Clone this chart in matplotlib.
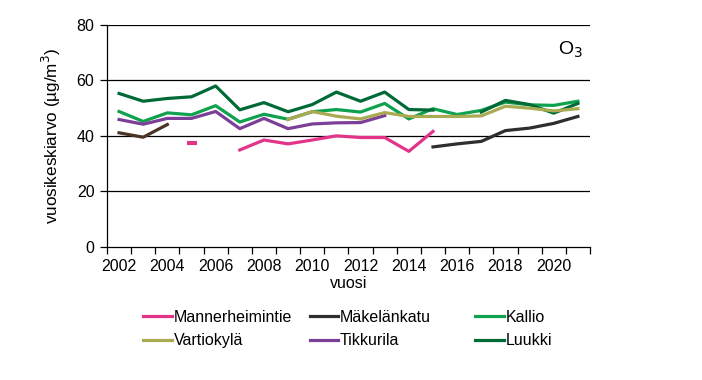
import numpy as np
import matplotlib
matplotlib.use("Agg")
import matplotlib.pyplot as plt

plt.rcParams['font.family'] = ['Liberation Sans', 'DejaVu Sans']

vuodet = list(range(2002, 2022))
nan = np.nan

# vuosikeskiarvot (µg/m3), 2002-2021
mannerheimintie = [nan, nan, nan, 37.3, nan, 34.9, 38.5, 37.1, 38.5, 40.0,
                   39.4, 39.4, 34.4, 41.6, nan, nan, nan, nan, nan, nan]
makelankatu = [41.1, 39.5, 44.1, nan, nan, nan, nan, nan, nan, nan,
               nan, nan, nan, 36.0, 37.1, 38.0, 41.9, 42.8, 44.5, 47.0]
kallio = [48.8, 45.2, 48.3, 47.6, 50.9, 45.0, 47.8, 46.0, 48.7, 49.5,
          48.6, 51.7, 46.1, 49.8, 47.7, 49.2, 52.2, 51.2, 51.0, 52.5]
vartiokyla = [nan, nan, nan, nan, nan, nan, nan, 45.9, 48.8, 47.1,
              46.1, 48.4, 47.0, 47.0, 47.0, 47.2, 50.7, 50.0, 49.0, 49.8]
tikkurila = [45.9, 44.2, 46.3, 46.3, 48.8, 42.6, 46.3, 42.6, 44.3, 44.7,
             44.8, 47.3, nan, nan, nan, nan, nan, nan, nan, nan]
luukki = [55.3, 52.5, 53.5, 54.1, 58.0, 49.4, 52.0, 48.7, 51.3, 55.8,
          52.5, 55.8, 49.5, 49.3, nan, 48.6, 52.8, 51.3, 48.2, 51.7]

x = np.array(vuodet)
lw = 2.3
fs = 11.5

fig = plt.figure(figsize=(7.02, 3.80), dpi=100)
ax = fig.add_axes([0.1524, 0.351, 0.688, 0.583])

# vaakaviivat
for yv in [20, 40, 60, 80]:
    ax.axhline(yv, color='black', lw=0.9, zorder=1)

# Mannerheimintie: yksittäinen piste 2005 lyhyenä viivana
mh = np.array(mannerheimintie)
l_mh, = ax.plot(x, mh, color='#e2358a', lw=lw, label='Mannerheimintie', zorder=3)
ax.plot([2005], [mh[3]], marker='_', ms=7, mew=3, color='#e2358a', zorder=3)

mk = np.array(makelankatu)
l_mk, = ax.plot(x[13:], mk[13:], color='#2e2e2e', lw=lw, label='Mäkelänkatu', zorder=3)
ax.plot(x[:3], mk[:3], color='#4a3426', lw=lw, zorder=3)

l_ka, = ax.plot(x, kallio, color='#0ea14e', lw=lw, label='Kallio', zorder=3)
l_va, = ax.plot(x, vartiokyla, color='#a9aa52', lw=lw, label='Vartiokylä', zorder=4)
l_ti, = ax.plot(x, tikkurila, color='#7c3f97', lw=lw, label='Tikkurila', zorder=3)
l_lu, = ax.plot(x, luukki, color='#006a36', lw=lw, label='Luukki', zorder=3)

ax.set_xlim(2001.5, 2021.5)
ax.set_ylim(0, 80)
ax.set_yticks([0, 20, 40, 60, 80])
ax.set_xticks(vuodet[::2])
ax.set_xticks(np.arange(2001.5, 2022, 1.0), minor=True)
ax.tick_params(axis='x', which='major', length=0, labelsize=fs, pad=9)
ax.tick_params(axis='x', which='minor', length=5, width=0.9, direction='out')
ax.tick_params(axis='y', length=5, width=0.9, labelsize=fs, direction='out', pad=4)

for s in ['top', 'right']:
    ax.spines[s].set_visible(False)
ax.spines['left'].set_linewidth(0.9)
ax.spines['bottom'].set_linewidth(0.9)

ax.set_ylabel('vuosikeskiarvo (µg/m$^3$)', fontsize=12.3, labelpad=10)
ax.set_xlabel('vuosi', fontsize=fs, labelpad=1)
ax.text(0.985, 0.886, 'O$_3$', transform=ax.transAxes, fontsize=14, ha='right', va='center')

# selite kolmessa sarakkeessa
sarakkeet = [([l_mh, l_va], 0.204), ([l_mk, l_ti], 0.441), ([l_ka, l_lu], 0.677)]
for hs, xpos in sarakkeet:
    leg = fig.legend(hs, [h.get_label() for h in hs], frameon=False,
                     loc='upper left', bbox_to_anchor=(xpos, 0.185), fontsize=fs,
                     handlelength=1.8, handletextpad=0.1, labelspacing=0.55,
                     borderaxespad=0, borderpad=0)

fig.savefig('out.png', dpi=100)
